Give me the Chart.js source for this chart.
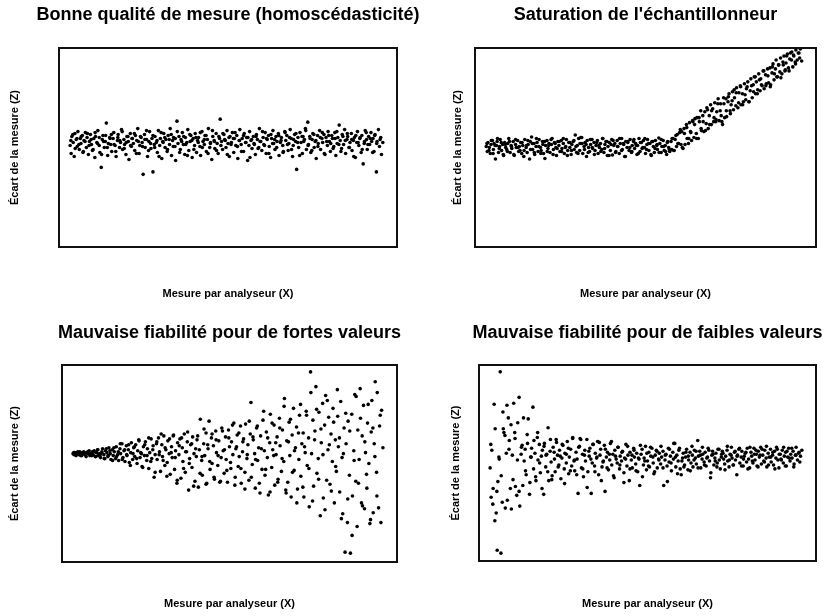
<!DOCTYPE html>
<html>
<head>
<meta charset="utf-8">
<script src="https://cdn.jsdelivr.net/npm/chart.js@4.4.1/dist/chart.umd.min.js"></script>
<style>
html,body{margin:0;padding:0;background:#fff;}
body{width:826px;height:616px;overflow:hidden;position:relative;}
canvas{position:absolute;}
</style>
</head>
<body>
<canvas id="c0"></canvas>
<canvas id="c1"></canvas>
<canvas id="c2"></canvas>
<canvas id="c3"></canvas>
<script>
// ---- Text ----
const panelTitles = [
  "Bonne qualité de mesure (homoscédasticité)",
  "Saturation de l'échantillonneur",
  "Mauvaise fiabilité pour de fortes valeurs",
  "Mauvaise fiabilité pour de faibles valeurs"
];
const xAxisLabel = "Mesure par analyseur (X)";
const yAxisLabel = "Écart de la mesure (Z)";

// ---- Data (axis units: X 0–100, Z -10–10) ----
// first sample of analyser measurements
const xMeasure = [
3.3,3.6,3.8,4.2,4.5,4.7,5.1,5.4,5.6,6.0,6.3,6.5,6.9,7.2,7.4,7.8,8.1,8.3,8.7,9.0,
9.3,9.6,9.9,10.3,10.6,10.8,11.2,11.5,11.9,12.1,12.5,12.8,13.0,13.4,13.7,14.0,14.4,14.6,15.0,15.3,
15.6,16.0,16.2,16.6,16.9,17.3,17.5,17.9,18.2,18.5,18.8,19.2,19.4,19.8,20.1,20.5,20.7,21.1,21.4,21.7,
22.0,22.4,22.6,23.0,23.3,23.7,23.9,24.3,24.6,24.9,25.3,25.5,25.9,26.2,26.6,26.8,27.2,27.5,27.8,28.2,
28.4,28.8,29.1,29.4,29.8,30.0,30.4,30.7,31.0,31.4,31.6,32.0,32.3,32.7,32.9,33.3,33.6,33.9,34.3,34.5,
34.9,35.2,35.5,35.9,36.1,36.5,36.8,37.2,37.4,37.8,38.1,38.4,38.8,39.0,39.4,39.7,40.1,40.3,40.7,41.0,
41.3,41.7,41.9,42.3,42.6,43.0,43.2,43.6,43.9,44.2,44.6,44.8,45.2,45.5,45.9,46.1,46.5,46.8,47.1,47.5,
47.7,48.1,48.4,48.8,49.0,49.4,49.7,50.0,50.4,50.6,51.0,51.3,51.7,51.9,52.3,52.6,52.9,53.3,53.5,53.9,
54.2,54.6,54.8,55.2,55.5,55.8,56.2,56.4,56.8,57.1,57.5,57.7,58.1,58.4,58.7,59.1,59.3,59.7,60.0,60.4,
60.6,61.0,61.3,61.6,62.0,62.2,62.6,62.9,63.3,63.5,63.9,64.2,64.5,64.9,65.1,65.5,65.8,66.2,66.4,66.8,
67.1,67.4,67.8,68.0,68.4,68.7,69.1,69.3,69.7,70.0,70.3,70.7,70.9,71.3,71.6,72.0,72.2,72.6,72.9,73.2,
73.6,73.8,74.2,74.5,74.9,75.1,75.5,75.8,76.1,76.5,76.7,77.1,77.4,77.8,78.0,78.4,78.7,79.0,79.4,79.6,
80.0,80.3,80.7,80.9,81.3,81.6,81.9,82.3,82.5,82.9,83.2,83.6,83.8,84.2,84.5,84.8,85.2,85.4,85.8,86.1,
86.5,86.7,87.1,87.4,87.7,88.1,88.3,88.7,89.0,89.4,89.6,90.0,90.3,90.6,91.0,91.2,91.6,91.9,92.3,92.5,
92.9,93.2,93.5,93.9,94.1,94.5,94.8,95.2,95.4,95.8
];
// second sample of analyser measurements
const xMeasure2 = [
3.5,4.1,4.8,5.3,5.9,6.6,7.1,7.7,8.4,8.9,
9.5,10.1,10.7,11.4,11.9,12.6,13.2,13.8,14.3,15.1,
15.5,16.3,16.8,17.4,18.0,18.7,19.3,19.9,20.4,21.2,
21.6,22.3,22.9,23.5,24.1,24.7,25.4,25.9,26.5,27.1,
27.8,28.3,29.0,29.6,30.2,30.8,31.3,32.1,32.6,33.2,
33.8,34.4,35.0,35.7,36.3,36.9,37.5,38.0,38.7,39.3,
39.9,40.5,41.2,41.8,42.4,43.0,43.5,44.1,44.8,45.4,
46.0,46.6,47.3,47.9,48.5,49.2,49.8,50.3,50.9,51.6,
52.1,52.8,53.4,54.0,54.6,55.3,55.9,56.5,57.0,57.8,
58.3,58.9,59.5,60.2,60.8,61.4,62.1,62.7,63.2,63.8,
64.4,65.0,65.7,66.3,66.9,67.6,68.2,68.8,69.4,70.1,
70.6,71.2,71.9,72.4,73.0,73.7,74.3,74.8,75.4,76.0,
76.6,77.3,77.9,78.5,79.2,79.8,80.4,81.1,81.7,82.2,
82.8,83.4,84.0,84.7,85.3,85.9,86.6,87.2,87.8,88.5,
89.1,89.7,90.4,90.9,91.4,92.1,92.8,93.4,94.0,95.0
];

const zHomoscedastic = [
0.2,-0.6,1.1,0.5,-0.9,1.4,0.8,0.1,1.6,-0.2,0.9,0.4,1.2,-0.4,0.7,1.5,0.0,1.0,-0.7,0.6,
1.3,0.3,-0.3,0.9,-1.0,1.1,0.5,1.7,0.2,-0.5,-2.0,0.8,1.2,0.0,0.6,2.45,-0.8,0.4,1.0,0.3,
-0.4,0.9,1.5,0.2,-0.9,0.7,1.3,0.0,0.5,1.8,-0.2,0.8,0.3,-0.7,1.1,0.6,-1.2,1.4,0.1,0.9,
0.4,-0.3,1.2,0.7,1.9,-0.6,0.2,1.0,0.5,-2.7,1.3,0.0,0.8,-0.9,0.6,1.6,-0.1,0.9,-2.45,0.3,
1.1,0.5,-0.5,1.7,0.2,0.9,-1.1,0.6,1.4,0.0,0.8,-0.4,1.2,0.3,1.9,-0.8,0.7,1.0,0.1,-1.3,
2.65,0.4,1.1,-0.2,0.8,1.5,0.3,-0.7,1.0,0.5,1.8,-0.3,0.6,1.2,-1.0,0.9,0.2,1.4,-0.5,0.7,
1.0,0.1,-0.8,1.6,0.6,0.3,1.2,-0.4,0.8,1.9,0.0,0.5,-1.2,1.1,0.7,-0.1,1.4,0.4,-0.6,0.9,
2.85,0.6,-0.2,1.3,0.8,0.0,1.7,0.4,-0.9,1.1,0.5,1.5,-0.5,0.9,0.2,1.2,-1.1,0.7,1.8,0.3,
0.9,-0.4,1.4,0.5,1.0,-1.3,0.2,1.6,0.7,-0.1,1.1,0.4,-0.7,1.3,0.8,0.0,1.9,0.6,-0.3,1.0,
0.3,1.5,-0.6,0.8,1.2,0.1,-1.0,0.9,1.7,0.4,-0.2,1.1,0.6,1.4,-0.8,0.5,1.0,0.2,-0.4,1.6,
0.7,1.2,-0.3,0.4,1.8,0.9,-0.9,0.2,1.3,0.6,-2.2,1.0,0.0,1.5,0.5,-0.6,1.1,0.8,1.9,-0.2,
2.55,0.3,1.1,-0.5,0.8,1.4,0.0,0.6,-1.1,1.2,0.4,1.7,-0.2,0.9,0.5,1.3,-0.7,1.0,0.2,1.6,
0.6,-0.4,1.2,0.9,0.1,1.5,-0.8,0.4,1.0,2.25,0.7,-0.1,1.3,0.3,1.8,-0.6,0.8,1.1,0.0,0.5,
1.4,-0.3,0.7,1.0,-1.0,0.5,1.6,0.2,0.9,-0.5,1.2,-1.65,0.4,1.7,0.8,-0.2,1.1,0.3,1.5,0.6,
0.9,-0.4,1.3,-2.45,0.6,1.8,0.1,1.0,-0.7,0.5
];
const zHomoscedastic2 = [
0.7,1.3,-0.1,0.9,0.3,1.1,-0.5,0.6,1.4,0.2,
0.8,-0.2,1.5,0.4,1.0,-0.7,0.6,1.2,0.0,0.9,
1.3,0.3,-0.4,1.0,0.7,1.6,-0.1,0.5,1.1,0.2,
0.9,1.4,-0.6,0.6,1.1,0.1,0.8,1.7,-0.3,0.4,
1.2,0.0,0.7,-0.9,1.5,0.5,1.0,-0.2,0.8,1.3,
0.1,0.9,1.6,-0.5,0.6,1.1,0.3,-0.8,1.3,0.7,
-0.2,1.0,0.5,1.5,0.0,0.8,1.2,-0.6,0.4,1.7,
0.6,-0.3,1.1,0.2,1.4,0.7,-0.7,1.0,0.3,0.9,
1.5,0.1,0.7,-0.4,1.2,0.5,1.0,-1.0,0.8,0.3,
1.1,-0.1,0.6,1.6,0.2,0.9,-0.6,1.3,0.4,0.8,
0.0,1.2,0.7,-0.5,1.5,0.3,1.0,-0.2,0.8,1.4,
0.5,-0.8,1.1,0.6,1.7,0.2,0.9,-0.3,1.3,0.7,
0.1,1.0,1.5,-0.6,0.6,1.2,0.4,-0.1,0.9,1.6,
0.3,-0.4,1.1,0.7,1.4,0.0,0.8,-0.9,1.2,0.5,
1.0,-0.2,0.6,1.5,0.3,0.9,-0.5,1.2,0.4,0.8
];

const zSaturation = [
0.1,-0.4,0.5,0.0,-0.6,0.3,0.7,-0.2,0.4,-1.15,0.2,0.6,-0.5,0.1,0.8,-0.3,0.3,-0.7,0.5,0.0,
-0.2,0.4,0.9,-0.5,0.2,-0.1,0.6,-0.8,0.3,0.0,0.7,-0.4,0.1,0.5,-0.6,0.2,-0.3,0.8,0.0,-0.5,
0.3,-1.15,0.6,1.05,-0.2,0.4,-0.7,0.1,0.5,-0.4,0.8,0.0,-0.3,0.6,-0.6,-1.1,0.2,0.7,-0.1,0.4,
-0.5,0.3,0.9,-0.2,0.5,0.0,-0.8,0.6,0.2,-0.4,0.7,-0.1,0.4,-0.6,0.1,0.8,-0.3,0.5,0.0,-0.7,
0.3,0.6,-0.2,1.25,-0.5,0.2,0.9,-0.3,1.0,0.4,-0.6,0.1,0.5,-0.9,0.7,0.0,-0.4,0.3,0.8,-0.1,
0.5,-0.3,0.2,0.7,-0.6,0.0,0.4,-0.2,0.9,-0.5,0.3,0.6,-0.8,0.1,0.5,-0.3,0.8,-0.75,0.2,0.4,
-0.4,0.7,0.1,-0.6,0.4,0.9,-0.2,0.3,-0.9,0.6,0.0,0.5,-0.3,0.8,-0.5,0.2,0.6,-0.1,0.4,-0.7,
0.2,0.9,-0.4,0.5,-0.1,0.7,0.0,-0.6,0.3,0.8,-0.3,0.4,-0.8,0.6,0.1,-0.5,0.7,0.2,-0.2,0.95,
0.4,-0.5,0.1,0.7,-0.3,0.2,-0.7,0.5,0.0,-0.4,0.6,-0.2,0.9,-0.3,0.8,0.1,1.3,0.4,1.5,0.3,
1.6,-0.1,1.9,0.3,2.3,0.9,0.4,2.5,1.5,0.7,2.6,1.0,2.9,1.4,3.0,0.9,2.6,3.7,1.7,3.2,
1.6,3.6,2.4,4.0,1.9,3.2,4.3,2.3,3.9,2.6,4.5,2.8,3.6,4.9,2.7,4.4,3.2,2.3,5.0,3.0,
4.9,3.1,4.6,5.4,3.4,4.3,5.6,3.8,5.0,4.2,6.0,4.0,5.5,6.2,4.3,5.4,4.6,6.4,4.8,5.9,
6.6,4.6,5.7,6.9,5.0,6.3,7.1,5.4,6.6,5.8,7.4,5.7,6.9,6.2,7.7,5.9,7.3,6.4,7.9,6.5,
8.0,6.3,7.5,8.4,6.8,7.9,8.8,7.1,8.3,7.6,9.0,7.4,8.6,9.2,7.8,8.5,9.4,8.0,8.9,9.5,
9.6,8.1,9.2,8.6,9.8,8.8,9.5,9.0,9.9,8.7
];
const zSaturation2 = [
0.4,-0.3,0.7,-0.6,0.2,0.9,-0.1,0.5,-0.8,0.3,
-0.4,0.6,0.1,-0.7,0.8,0.0,-0.3,0.5,-0.9,0.2,
0.7,-0.2,0.4,-0.5,0.9,0.1,-0.6,0.3,0.6,-0.4,
0.2,0.8,-0.7,0.4,-0.1,0.6,-0.4,0.9,0.0,-0.8,
0.5,-0.3,0.7,0.1,-0.6,0.4,1.0,-0.2,0.3,-0.5,
0.8,0.0,-0.7,0.5,0.2,-0.4,0.9,-0.1,0.6,-0.8,
0.3,0.7,-0.5,0.1,0.9,-0.3,0.4,-0.9,0.6,0.0,
-0.4,0.8,0.2,-0.6,0.5,0.0,0.9,-0.2,0.4,-0.7,
0.6,-0.1,0.3,-0.5,0.8,0.1,-0.4,0.6,-0.2,0.9,
-0.3,1.2,0.4,1.8,0.0,1.4,2.0,0.9,1.6,2.7,
2.3,0.9,3.0,1.9,2.6,1.7,3.8,2.3,3.7,3.0,
2.6,4.4,3.7,2.6,4.4,3.7,5.1,3.7,4.7,5.8,
5.5,4.5,6.1,4.3,5.3,6.1,4.6,6.2,5.6,7.1,
5.4,6.8,6.3,7.7,6.2,7.2,6.1,8.1,7.4,7.1,
8.3,7.0,8.3,7.7,9.2,7.7,8.8,9.3,8.4,9.5
];

const zHighValues = [
1.0,0.9,1.1,0.8,1.0,1.2,0.9,1.0,0.8,1.1,1.0,1.2,0.9,0.7,1.1,1.0,1.3,0.8,1.0,1.2,
0.9,1.3,0.7,1.1,1.4,0.8,1.0,0.6,1.2,1.5,0.9,0.5,1.3,1.1,0.7,1.6,1.0,0.4,1.4,0.8,
1.2,0.5,1.7,0.9,0.3,1.5,1.0,2.0,0.6,1.3,0.2,1.8,0.8,1.4,0.1,1.1,2.1,0.4,1.6,0.7,
1.9,0.0,1.3,2.3,0.6,1.0,-0.3,1.7,0.8,2.2,0.3,1.5,-0.5,1.1,2.5,0.5,1.8,-1.4,0.9,2.0,
0.4,2.6,1.2,-0.8,1.9,0.7,2.8,-0.2,1.4,0.1,2.3,1.0,-1.1,1.7,0.6,2.9,-0.6,1.3,-2.0,2.1,
0.9,2.5,-1.5,1.6,0.2,3.0,-0.9,1.2,2.2,-2.7,0.5,1.9,-0.4,2.7,1.0,-1.8,0.7,2.4,-2.4,1.4,
4.5,0.3,-1.2,2.0,0.8,3.1,-2.0,1.5,4.3,-0.6,2.6,0.0,1.8,-1.6,3.3,1.1,-0.2,2.3,-1.9,0.6,
3.6,1.3,-1.0,2.7,0.4,-1.9,3.4,1.7,-0.5,2.2,0.9,4.1,-1.4,1.5,2.9,-0.3,0.7,3.8,-2.0,1.2,
2.5,-0.9,4.0,0.5,1.9,-1.7,3.0,6.2,-0.1,2.4,1.0,-2.5,3.6,0.3,1.6,-3.0,2.8,-0.6,4.4,1.3,
-1.2,3.2,0.6,-3.2,2.1,5.0,-0.4,1.4,3.9,-2.2,0.9,2.7,-1.6,4.6,1.8,-0.8,3.4,0.2,6.6,-2.7,
2.3,-1.9,4.2,0.8,-3.4,2.9,5.6,-0.7,1.6,3.7,-2.6,0.4,4.9,-1.3,2.0,3.1,-3.4,1.1,5.3,-0.2,
2.6,-4.4,9.3,1.0,4.4,-2.3,3.3,7.8,-1.0,0.5,5.2,-5.3,2.1,6.1,-3.5,3.9,6.9,-1.7,1.4,4.7,
-2.1,3.0,0.2,5.6,-4.0,2.4,-0.8,4.8,1.7,-2.9,6.3,0.6,-5.1,3.6,-9.0,2.0,-6.0,4.3,-1.2,-9.1,
5.0,-3.3,1.3,7.0,-1.8,-6.4,3.4,0.4,7.6,-4.0,2.8,5.9,-4.6,1.1,-2.5,4.1,0.0,-6.1,3.2,6.4,
-5.0,2.0,8.3,-0.9,7.2,-4.5,3.8,-6.0,5.4,1.6
];
const zHighValues2 = [
1.1,0.9,1.0,1.2,0.8,1.1,0.9,1.2,1.0,0.8,
1.2,0.7,1.4,0.9,1.1,0.5,1.5,0.8,1.3,0.3,
1.6,0.7,1.2,2.0,0.4,1.4,0.9,1.9,-0.2,1.0,
1.7,0.5,2.4,1.1,-0.4,1.9,0.8,2.6,0.2,1.4,
-0.9,2.2,0.9,3.0,0.3,1.6,-1.3,2.5,1.1,2.8,
0.6,-1.7,1.8,2.6,-0.5,1.2,3.2,0.0,2.0,-2.3,
1.5,2.8,-1.0,0.7,3.5,-2.1,1.9,0.2,3.0,-1.4,
2.4,0.8,-1.8,3.3,1.4,-0.7,2.6,0.1,3.9,-2.2,
1.7,3.1,-0.5,2.2,-2.6,0.9,4.3,-1.4,2.7,0.4,
3.8,-2.0,1.5,5.3,-0.6,2.6,-2.9,4.1,0.8,2.1,
-1.9,3.6,0.5,5.8,-3.0,2.2,4.5,-0.9,1.3,-4.0,
3.1,6.0,-2.4,1.7,4.9,-0.5,7.2,-3.8,2.4,5.5,
-1.6,3.5,0.9,-4.7,6.4,1.9,-2.8,4.2,-0.3,7.5,
2.6,-5.6,1.0,5.1,-3.6,3.3,-7.3,0.3,6.8,-2.0,
4.6,-4.3,2.2,-1.1,6.0,-5.7,3.6,0.7,-3.3,4.9
];

const zLowValues = [
-0.5,-3.5,1.3,-2.6,6.0,-5.9,-5.1,-8.9,-1.9,0.4,9.3,-9.2,-4.0,3.5,3.1,-4.6,1.0,5.9,4.6,2.3,
-2.6,-4.7,0.8,6.1,3.1,-2.4,-3.3,4.1,6.7,-4.4,0.9,1.8,-2.3,0.2,1.4,-1.2,2.0,4.5,-3.2,0.6,
1.5,5.7,-0.6,1.0,-1.8,2.6,0.3,1.9,-1.0,0.7,1.3,-3.2,2.0,-0.4,0.9,3.6,-1.8,1.2,0.1,-1.3,
1.6,0.4,-0.9,2.1,0.8,-0.2,1.3,-1.6,0.5,1.8,-0.6,1.0,0.0,2.2,-1.1,0.6,1.4,-0.3,2.6,0.2,
-0.8,1.1,0.4,-3.1,1.7,2.5,-0.5,0.9,-1.4,1.3,0.2,2.4,-0.9,0.7,1.5,-3.1,0.0,1.9,-0.3,1.0,
0.5,2.2,-1.2,0.8,1.4,-0.4,0.1,1.8,-2.9,0.6,1.1,-0.7,0.3,2.0,-0.2,0.9,-1.5,1.3,0.4,0.0,
1.6,-0.6,0.7,0.2,1.2,-1.0,0.5,1.9,-0.3,0.8,-1.8,1.1,0.3,-0.5,1.5,0.6,-0.1,1.0,-0.9,0.4,
-2.3,0.9,1.4,-0.2,0.5,1.7,-0.7,0.2,1.1,-0.4,0.7,1.5,0.0,-1.1,0.8,1.3,-0.5,0.4,1.0,-0.1,
0.6,1.2,-2.3,0.3,0.9,-0.3,1.5,0.1,0.7,-0.8,1.1,0.4,2.0,-0.4,0.8,0.2,1.3,-0.6,-1.2,0.5,
1.0,-0.2,0.6,1.4,-0.7,0.3,1.1,0.0,0.8,-0.4,1.3,0.5,-0.1,2.3,0.7,1.2,-0.5,0.4,0.9,0.1,
1.1,-0.3,0.6,1.5,0.2,-1.5,0.8,1.2,-0.2,0.5,1.0,0.0,1.4,0.3,-0.6,0.9,1.2,0.4,-0.1,0.7,
1.3,0.2,-0.4,0.9,1.6,0.5,-0.2,1.1,0.3,-1.2,0.8,1.4,0.0,0.6,1.2,-0.3,0.7,1.0,0.1,1.5,
0.4,-0.5,1.1,0.7,0.0,1.5,0.3,0.9,-0.3,1.2,0.6,1.6,-0.1,0.8,0.2,1.3,0.5,-0.4,1.0,0.6,
1.4,0.1,0.8,-0.2,1.2,0.5,1.6,0.3,-0.5,0.9,0.4,1.3,0.0,0.7,1.1,-0.3,0.6,1.5,0.2,0.9,
0.5,1.2,-0.1,0.8,1.6,0.3,1.0,0.1,0.7,1.3
];
const zLowValues2 = [
1.9,-4.2,3.5,-2.9,0.6,-1.3,5.2,2.8,-3.8,1.4,
3.9,-1.7,2.5,0.3,-2.9,1.6,4.6,-0.8,2.9,-2.0,
0.6,2.3,-1.4,3.1,0.0,-2.6,1.7,0.8,-0.9,2.4,
-1.7,1.1,2.4,-0.4,0.7,1.9,-2.1,0.9,1.5,-0.8,
2.5,0.3,-1.2,1.6,2.4,-0.6,0.8,-2.5,1.2,0.4,
1.9,-0.9,0.6,2.1,-1.8,0.2,1.4,-0.5,0.9,2.2,
-1.3,0.7,1.6,-0.2,1.1,-2.0,0.4,1.7,-0.6,0.8,
1.3,-0.8,0.5,1.8,-1.4,0.2,1.0,-0.3,1.6,0.6,
-0.9,1.2,0.3,1.7,-0.5,0.8,-1.9,1.4,0.0,2.0,
0.6,-1.1,1.5,0.2,-0.4,1.1,0.7,-0.8,1.7,0.3,
1.2,-0.5,0.8,1.6,-0.2,0.5,1.3,-1.0,0.9,0.2,
-0.4,1.4,0.6,1.0,-0.7,1.7,0.3,0.8,-0.2,1.2,
0.7,1.5,-0.3,0.4,1.1,-0.6,1.6,0.2,0.9,1.3,
-0.4,0.8,1.4,0.1,1.7,-0.2,0.6,1.1,-0.6,1.4,
0.9,0.3,1.6,-0.3,1.2,0.5,1.5,-0.4,0.8,1.1
];

const panelSeries = [
  [zHomoscedastic, zHomoscedastic2],
  [zSaturation, zSaturation2],
  [zHighValues, zHighValues2],
  [zLowValues, zLowValues2]
];

// ---- Layout / style (not data) ----
const panelLayout = [
  {left:0,   top:0,   w:456, h:300, yPadTop:9.5,  yPadBot:38.5, sidePad:59, titlePadBot:24, xPadTop:41.5, xPadBot:0.5},
  {left:435, top:0,   w:421, h:300, yPadTop:17.5, yPadBot:11.5, sidePad:40, titlePadBot:24, xPadTop:41.5, xPadBot:0.5},
  {left:0,   top:318, w:459, h:298, yPadTop:9.5,  yPadBot:41.5, sidePad:62, titlePadBot:23, xPadTop:36.5, xPadBot:6.5},
  {left:439, top:318, w:417, h:298, yPadTop:11.5, yPadBot:17.5, sidePad:40, titlePadBot:23, xPadTop:37.5, xPadBot:6.5}
];

Chart.defaults.font.family = "'Liberation Sans', Arial, Helvetica, sans-serif";
Chart.defaults.color = '#000';

const framePlugin = {
  id: 'frame',
  afterDraw(chart) {
    const {ctx, chartArea: a} = chart;
    ctx.save();
    ctx.strokeStyle = '#111';
    ctx.lineWidth = 2;
    ctx.strokeRect(a.left, a.top, a.right - a.left, a.bottom - a.top);
    ctx.restore();
  }
};

function toPoints(xs, ys) {
  const n = Math.min(xs.length, ys.length);
  const pts = [];
  for (let k = 0; k < n; k++) pts.push({x: xs[k], y: ys[k]});
  return pts;
}

panelLayout.forEach((L, i) => {
  const cv = document.getElementById('c' + i);
  cv.width = L.w; cv.height = L.h;
  cv.style.left = L.left + 'px'; cv.style.top = L.top + 'px';
  cv.style.width = L.w + 'px'; cv.style.height = L.h + 'px';
  const [ysA, ysB] = panelSeries[i];
  const pointStyle = {pointRadius: 1.8, pointBackgroundColor: '#000', pointBorderWidth: 0, showLine: false};
  const axisTitleFont = {size: 11, weight: 'bold', lineHeight: 1};
  new Chart(cv, {
    type: 'scatter',
    data: { datasets: [
      Object.assign({data: toPoints(xMeasure, ysA)}, pointStyle),
      Object.assign({data: toPoints(xMeasure2, ysB)}, pointStyle)
    ]},
    options: {
      responsive: false,
      animation: false,
      layout: {padding: 0},
      plugins: {
        legend: {display: false},
        tooltip: {enabled: false},
        title: {
          display: true, text: panelTitles[i], color: '#000',
          font: {size: 18, weight: 'bold', lineHeight: 1},
          padding: {top: 6, bottom: L.titlePadBot}
        }
      },
      scales: {
        x: {
          type: 'linear', position: 'bottom', min: 0, max: 100,
          ticks: {display: false}, grid: {display: false, drawTicks: false}, border: {display: false},
          title: {display: true, text: xAxisLabel, color: '#000', font: axisTitleFont,
                  padding: {top: L.xPadTop, bottom: L.xPadBot}}
        },
        y: {
          type: 'linear', position: 'left', min: -10, max: 10,
          ticks: {display: false}, grid: {display: false, drawTicks: false}, border: {display: false},
          title: {display: true, text: yAxisLabel, color: '#000', font: axisTitleFont,
                  padding: {top: L.yPadTop, bottom: L.yPadBot}}
        },
        y2: {
          type: 'linear', position: 'right', min: -10, max: 10,
          ticks: {display: false}, grid: {display: false, drawTicks: false}, border: {display: false},
          title: {display: true, text: '', font: axisTitleFont, padding: {top: 0, bottom: L.sidePad - 11}}
        }
      }
    },
    plugins: [framePlugin]
  });
});
</script>
</body>
</html>
